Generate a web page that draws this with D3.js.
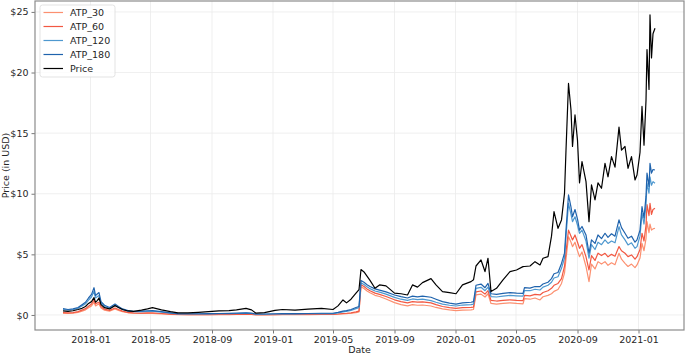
<!DOCTYPE html>
<html>
<head>
<meta charset="utf-8">
<script src="https://cdn.jsdelivr.net/npm/d3@7"></script>
<style>
    body { margin: 0; background: #fff; }
    text { font-family: "DejaVu Sans", sans-serif; }
    .grid line { stroke: #ebebeb; stroke-width: 0.8; }
    .line { fill: none; stroke-width: 1.2; stroke-linejoin: round; }
</style>
</head>
<body>
<div class="container"></div>
<script>
const WIDTH = 685;
const HEIGHT = 353;
const LEFT = 35;
const RIGHT = 684;
const TOP = 1;
const BOTTOM = 330;

var dates = ['2017-11-07', '2017-11-17', '2017-11-27', '2017-12-07', '2017-12-15', '2017-12-22', '2017-12-28',
    '2018-01-03', '2018-01-08', '2018-01-11', '2018-01-15', '2018-01-18', '2018-01-22', '2018-01-29',
    '2018-02-08', '2018-02-19', '2018-02-26', '2018-03-06', '2018-03-17', '2018-03-28', '2018-04-13',
    '2018-04-25', '2018-05-05', '2018-05-23', '2018-06-10', '2018-06-25', '2018-07-15', '2018-08-05',
    '2018-08-25', '2018-09-15', '2018-10-05', '2018-10-20', '2018-11-08', '2018-11-19', '2018-11-28',
    '2018-12-15', '2019-01-05', '2019-01-20', '2019-02-14', '2019-03-12', '2019-04-08', '2019-05-01',
    '2019-05-11', '2019-05-21', '2019-05-28', '2019-06-06', '2019-06-16', '2019-06-22', '2019-06-26',
    '2019-07-02', '2019-07-08', '2019-07-14', '2019-07-24', '2019-08-02', '2019-08-15', '2019-09-01',
    '2019-09-14', '2019-09-27', '2019-10-07', '2019-10-17', '2019-10-27', '2019-11-13', '2019-11-23',
    '2019-12-06', '2019-12-20', '2020-01-02', '2020-01-15', '2020-02-01', '2020-02-06', '2020-02-11',
    '2020-02-21', '2020-02-29', '2020-03-06', '2020-03-12', '2020-03-23', '2020-04-05', '2020-04-19',
    '2020-05-02', '2020-05-15', '2020-05-18', '2020-05-29', '2020-06-08', '2020-06-18', '2020-06-24',
    '2020-07-04', '2020-07-11', '2020-07-16', '2020-07-24', '2020-07-31', '2020-08-06', '2020-08-09',
    '2020-08-14', '2020-08-19', '2020-08-22', '2020-08-27', '2020-09-01', '2020-09-05', '2020-09-10',
    '2020-09-18', '2020-09-24', '2020-09-29', '2020-10-06', '2020-10-12', '2020-10-19', '2020-10-26',
    '2020-11-01', '2020-11-08', '2020-11-15', '2020-11-23', '2020-11-28', '2020-12-05', '2020-12-11',
    '2020-12-18', '2020-12-25', '2020-12-29', '2021-01-04', '2021-01-08', '2021-01-12', '2021-01-16',
    '2021-01-18', '2021-01-22', '2021-01-24', '2021-01-27', '2021-01-30', '2021-02-03'];

var price = [0.33, 0.30, 0.35, 0.45, 0.55, 0.70, 0.95,
    1.10, 1.43, 1.05, 1.20, 1.40, 0.85, 0.60,
    0.50, 0.77, 0.62, 0.45, 0.33, 0.30, 0.40,
    0.50, 0.60, 0.42, 0.28, 0.18, 0.17, 0.22,
    0.28, 0.33, 0.36, 0.42, 0.55, 0.42, 0.15,
    0.20, 0.38, 0.45, 0.40, 0.48, 0.55, 0.45,
    0.75, 1.24, 1.00, 1.30, 1.80, 2.10, 3.75,
    3.55, 3.20, 2.85, 2.20, 2.48, 2.40, 1.80,
    1.75, 1.65, 2.48, 2.30, 2.67, 3.00, 2.48,
    1.93, 1.84, 1.75, 2.48, 2.75, 2.90, 4.04,
    4.54, 3.58, 4.68, 1.93, 2.20, 2.90, 3.58,
    3.71, 3.99, 4.00, 4.04, 4.40, 4.13, 4.68,
    4.81, 6.50, 8.52, 7.15, 7.84, 10.04, 13.60,
    19.10, 16.90, 13.90, 16.50, 14.40, 10.90, 12.65,
    11.00, 7.70, 10.73, 9.49, 10.90, 10.45, 12.50,
    11.40, 13.06, 12.20, 15.50, 13.60, 13.90, 12.10,
    13.06, 11.14, 11.55, 13.40, 17.20, 14.00, 17.70,
    21.90, 18.60, 24.75, 21.20, 23.20, 23.65];

var atp180 = [0.52, 0.45, 0.50, 0.62, 0.85, 1.05, 1.40,
    1.70, 2.25, 1.60, 1.75, 1.85, 1.10, 0.80,
    0.62, 0.90, 0.70, 0.50, 0.36, 0.30, 0.32,
    0.35, 0.36, 0.28, 0.18, 0.11, 0.10, 0.10,
    0.11, 0.12, 0.13, 0.15, 0.18, 0.15, 0.08,
    0.08, 0.10, 0.12, 0.11, 0.12, 0.14, 0.14,
    0.22, 0.32, 0.36, 0.45, 0.62, 0.70, 2.85,
    2.70, 2.50, 2.35, 2.15, 2.05, 1.90, 1.65,
    1.51, 1.40, 1.55, 1.50, 1.55, 1.46, 1.30,
    1.10, 0.98, 0.90, 1.00, 1.05, 1.10, 2.45,
    2.55, 2.25, 2.60, 1.75, 1.70, 1.78, 1.85,
    1.80, 1.78, 2.25, 2.22, 2.35, 2.34, 2.55,
    2.70, 3.00, 3.40, 3.50, 4.25, 5.10, 7.00,
    9.90, 8.90, 8.10, 8.70, 7.90, 7.00, 7.30,
    6.60, 5.09, 6.20, 5.90, 6.60, 6.30, 6.74,
    6.40, 6.70, 6.50, 7.84, 7.20, 6.74, 6.33,
    6.50, 6.00, 6.20, 7.00, 8.93, 8.00, 9.80,
    11.70, 10.60, 12.50, 11.70, 12.00, 11.96];

var atp120 = [0.45, 0.40, 0.44, 0.55, 0.75, 0.92, 1.22,
    1.48, 1.95, 1.40, 1.52, 1.60, 0.95, 0.70,
    0.55, 0.80, 0.62, 0.45, 0.32, 0.27, 0.28,
    0.30, 0.31, 0.24, 0.15, 0.09, 0.08, 0.08,
    0.09, 0.10, 0.10, 0.12, 0.15, 0.12, 0.06,
    0.06, 0.08, 0.10, 0.09, 0.10, 0.11, 0.11,
    0.18, 0.26, 0.30, 0.38, 0.52, 0.60, 2.65,
    2.52, 2.32, 2.17, 1.98, 1.88, 1.72, 1.45,
    1.30, 1.20, 1.32, 1.27, 1.30, 1.18, 1.05,
    0.90, 0.80, 0.74, 0.82, 0.86, 0.90, 2.20,
    2.28, 2.00, 2.30, 1.52, 1.48, 1.55, 1.62,
    1.58, 1.55, 2.02, 2.00, 2.12, 2.06, 2.30,
    2.45, 2.70, 3.05, 3.15, 3.85, 4.70, 6.50,
    9.20, 8.30, 7.70, 8.10, 7.40, 6.74, 7.00,
    6.10, 4.68, 5.80, 5.40, 6.00, 5.80, 6.19,
    5.90, 6.10, 5.95, 7.29, 6.60, 6.19, 5.78,
    5.95, 5.50, 5.64, 6.50, 8.39, 7.50, 9.10,
    10.87, 10.04, 11.40, 10.70, 11.00, 10.87];

var atp60 = [0.20, 0.17, 0.20, 0.28, 0.40, 0.52, 0.72,
    0.90, 1.24, 0.90, 1.00, 1.05, 0.70, 0.48,
    0.38, 0.58, 0.45, 0.32, 0.22, 0.17, 0.16,
    0.17, 0.17, 0.12, 0.07, 0.04, 0.03, 0.03,
    0.03, 0.04, 0.04, 0.05, 0.06, 0.05, 0.02,
    0.02, 0.03, 0.04, 0.04, 0.04, 0.05, 0.05,
    0.08, 0.12, 0.14, 0.18, 0.26, 0.32, 2.50,
    2.35, 2.15, 2.00, 1.80, 1.70, 1.52, 1.25,
    1.10, 1.00, 1.10, 1.06, 1.08, 1.00, 0.85,
    0.70, 0.60, 0.55, 0.60, 0.62, 0.65, 1.90,
    1.98, 1.72, 2.00, 1.20, 1.15, 1.20, 1.25,
    1.20, 1.18, 1.62, 1.58, 1.70, 1.65, 1.85,
    2.00, 2.20, 2.45, 2.60, 3.00, 4.00, 5.20,
    7.00, 6.50, 6.19, 6.60, 6.00, 5.50, 5.80,
    4.80, 3.71, 4.90, 4.50, 5.10, 4.90, 5.09,
    4.80, 5.00, 4.85, 5.64, 5.30, 5.09, 4.81,
    4.95, 4.60, 4.81, 5.40, 6.74, 6.10, 7.40,
    9.10, 8.20, 9.20, 8.30, 8.70, 8.80];

var atp30 = [0.15, 0.12, 0.15, 0.22, 0.32, 0.42, 0.60,
    0.75, 1.05, 0.75, 0.85, 0.90, 0.58, 0.40,
    0.32, 0.50, 0.38, 0.27, 0.18, 0.14, 0.12,
    0.13, 0.12, 0.09, 0.05, 0.03, 0.02, 0.02,
    0.02, 0.03, 0.03, 0.04, 0.05, 0.04, 0.01,
    0.01, 0.02, 0.03, 0.03, 0.03, 0.04, 0.04,
    0.06, 0.09, 0.11, 0.14, 0.20, 0.25, 2.32,
    2.18, 1.98, 1.83, 1.62, 1.52, 1.32, 1.02,
    0.85, 0.75, 0.85, 0.80, 0.82, 0.74, 0.62,
    0.50, 0.42, 0.36, 0.40, 0.42, 0.45, 1.65,
    1.72, 1.48, 1.75, 0.95, 0.90, 0.95, 1.00,
    0.95, 0.92, 1.35, 1.30, 1.40, 1.24, 1.50,
    1.62, 1.75, 1.95, 2.10, 2.60, 3.45, 4.60,
    6.45, 6.00, 5.64, 6.00, 5.30, 4.81, 5.20,
    4.00, 2.75, 4.20, 3.80, 4.40, 4.20, 4.40,
    4.10, 4.30, 4.15, 5.09, 4.60, 4.26, 4.00,
    4.20, 3.90, 4.13, 4.70, 5.91, 5.30, 6.30,
    7.70, 6.80, 7.50, 7.00, 7.10, 7.15];

var seriesNames = ['ATP_30', 'ATP_60', 'ATP_120', 'ATP_180', 'Price'];
var seriesValues = [atp30, atp60, atp120, atp180, price];
var seriesColors = ['#fc9070', '#f25842', '#4e98cf', '#1f63ad', '#000000'];

var yTicks = [0, 5, 10, 15, 20, 25];
var xTicks = ['2018-01-01', '2018-05-01', '2018-09-01', '2019-01-01', '2019-05-01', '2019-09-01',
    '2020-01-01', '2020-05-01', '2020-09-01', '2021-01-01'];

var parseDate = d3.utcParse('%Y-%m-%d');

var _xScale = d3.scaleUtc()
    .domain([parseDate('2017-09-12'), parseDate('2021-04-02')])
    .range([LEFT, RIGHT]);

var _yScale = d3.scaleLinear()
    .domain([-1.24, 25.9])
    .range([BOTTOM, TOP]);

var _svg;

var createSvg = function () {
    _svg = d3.select('.container').append('svg').attr('width', WIDTH).attr('height', HEIGHT);
};

var drawGrid = function () {
    var g = _svg.append('g').classed('grid', true);
    g.selectAll('.gx')
        .data(xTicks)
        .enter().append('line')
        .attr('x1', function (d) { return _xScale(parseDate(d)); })
        .attr('x2', function (d) { return _xScale(parseDate(d)); })
        .attr('y1', TOP)
        .attr('y2', BOTTOM);
    g.selectAll('.gy')
        .data(yTicks)
        .enter().append('line')
        .attr('x1', LEFT)
        .attr('x2', RIGHT)
        .attr('y1', function (d) { return _yScale(d); })
        .attr('y2', function (d) { return _yScale(d); });
};

var drawAxis = function () {
    var xAxis = d3.axisBottom(_xScale)
        .tickValues(xTicks.map(parseDate))
        .tickFormat(d3.utcFormat('%Y-%m'))
        .tickSize(3.5)
        .tickPadding(2.5);
    var yAxis = d3.axisLeft(_yScale)
        .tickValues(yTicks)
        .tickFormat(function (d) { return '$' + d; })
        .tickSize(3.5)
        .tickPadding(3);

    var gx = _svg.append('g')
        .attr('transform', 'translate(0,' + BOTTOM + ')')
        .call(xAxis);
    var gy = _svg.append('g')
        .attr('transform', 'translate(' + LEFT + ',0)')
        .call(yAxis);

    [gx, gy].forEach(function (g) {
        g.select('.domain').remove();
        g.selectAll('.tick line').attr('stroke', '#555').attr('stroke-width', 0.8);
        g.selectAll('.tick text').attr('fill', '#262626').style('font-size', '9.5px');
    });

    // spines
    _svg.append('rect')
        .attr('x', LEFT).attr('y', TOP)
        .attr('width', RIGHT - LEFT).attr('height', BOTTOM - TOP)
        .attr('fill', 'none').attr('stroke', '#8c8c8c').attr('stroke-width', 1.2);

    _svg.append('text')
        .attr('x', (LEFT + RIGHT) / 2).attr('y', 352.5)
        .attr('text-anchor', 'middle')
        .style('font-size', '9.5px').attr('fill', '#262626')
        .text('Date');

    _svg.append('text')
        .attr('transform', 'translate(5.5,' + ((TOP + BOTTOM) / 2) + ') rotate(-90)')
        .attr('text-anchor', 'middle')
        .attr('dy', '0.35em')
        .style('font-size', '9.5px').attr('fill', '#262626')
        .text('Price (in USD)');
};

var drawChart = function () {
    var parsed = dates.map(parseDate);
    var line = d3.line()
        .x(function (d, i) { return _xScale(parsed[i]); })
        .y(function (d) { return _yScale(d); });

    _svg.append('g')
        .selectAll('path')
        .data(seriesValues)
        .enter().append('path')
        .classed('line', true)
        .attr('stroke', function (d, i) { return seriesColors[i]; })
        .attr('d', line);
};

var drawLegend = function () {
    var g = _svg.append('g').attr('transform', 'translate(40,5)');
    g.append('rect')
        .attr('width', 75).attr('height', 72)
        .attr('rx', 2.5)
        .attr('fill', '#fff').attr('fill-opacity', 0.8)
        .attr('stroke', '#dcdcdc').attr('stroke-width', 0.8);

    var items = g.selectAll('.item')
        .data(seriesNames)
        .enter().append('g')
        .attr('transform', function (d, i) { return 'translate(0,' + (7.5 + i * 14) + ')'; });
    items.append('line')
        .attr('x1', 3.5).attr('x2', 23)
        .attr('stroke', function (d, i) { return seriesColors[i]; })
        .attr('stroke-width', 1.2);
    items.append('text')
        .attr('x', 30).attr('dy', '0.35em')
        .style('font-size', '9.5px').attr('fill', '#262626')
        .text(function (d) { return d; });
};

window.onload = function () {
    createSvg();
    drawGrid();
    drawChart();
    drawAxis();
    drawLegend();
};
</script>
</body>
</html>
